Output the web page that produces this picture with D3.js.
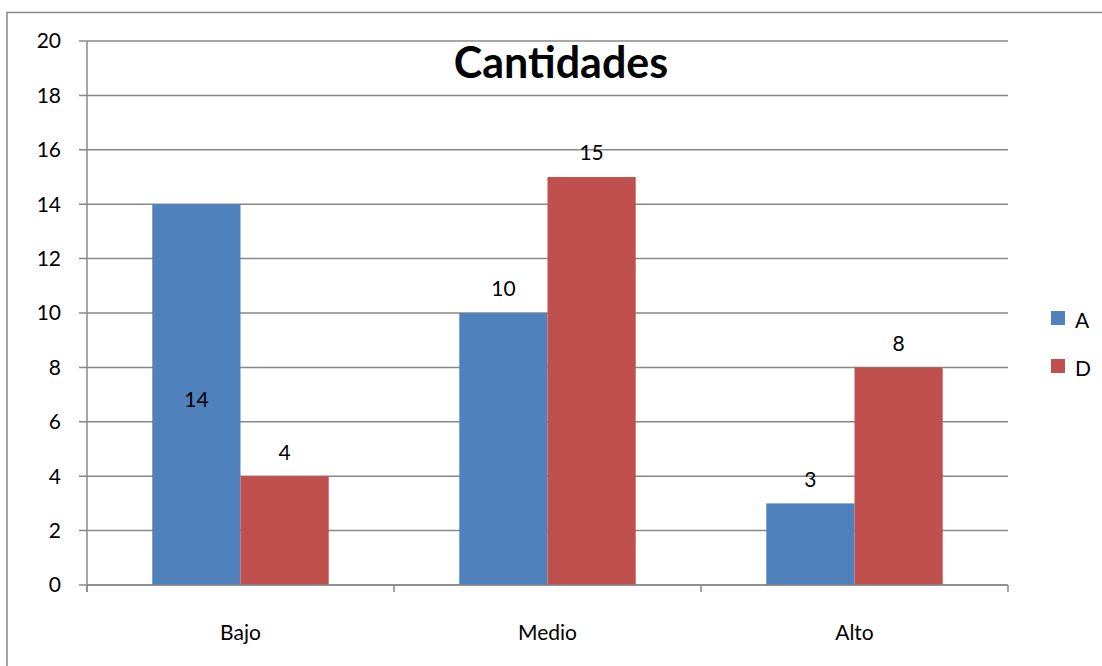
<!DOCTYPE html>
<html><head><meta charset="utf-8">
<script src="https://cdn.jsdelivr.net/npm/d3@7"></script>
<style>body{margin:0;background:#fff}svg{display:block}</style>
</head><body>
<script>
const categories = ["Bajo", "Medio", "Alto"];
const seriesNames = ["A", "D"];
const valuesA = [14, 10, 3];
const valuesD = [4, 15, 8];
const yTicks = [0, 2, 4, 6, 8, 10, 12, 14, 16, 18, 20];
const colors = ["#4F81BD", "#C0504D"];
const title = "Cantidades";

(function () {
const W = 1102, H = 666;
const font = "Lato, 'Open Sans', sans-serif";
const fs = 21;
const svg = d3.select("body").append("svg").attr("width", W).attr("height", H);

// outer chart border
svg.append("rect").attr("x", 7).attr("y", 12.5).attr("width", 1200).attr("height", 700)
  .attr("fill", "#fff").attr("stroke", "#888").attr("stroke-width", 1.5);

const mLeft = 87, mRight = 1008, mTop = 41, mBottom = 585;
const x = d3.scaleBand().domain(categories).range([mLeft, mRight]).paddingInner(0).paddingOuter(0);
const y = d3.scaleLinear().domain([0, 20]).range([mBottom, mTop]);
const inner = d3.scaleBand().domain(seriesNames).range([0, x.bandwidth()]).paddingOuter(0.74).paddingInner(0);

// gridlines
svg.append("g").selectAll("line").data(yTicks).join("line")
  .attr("x1", mLeft - 8).attr("x2", mRight).attr("y1", d => y(d)).attr("y2", d => y(d))
  .attr("stroke", "#888").attr("stroke-width", 1.5);

// y axis
svg.append("line").attr("x1", mLeft).attr("x2", mLeft).attr("y1", mTop).attr("y2", mBottom + 7)
  .attr("stroke", "#888").attr("stroke-width", 1.5);
svg.append("g").selectAll("text").data(yTicks).join("text")
  .attr("x", 61).attr("y", d => y(d)).attr("dy", "0.35em").attr("text-anchor", "end")
  .attr("font-family", font).attr("font-size", fs).attr("fill", "#000").text(d => d);

const data = categories.map((c, i) => ({c, vals: [valuesA[i], valuesD[i]]}));
const groups = svg.append("g").selectAll("g").data(data).join("g")
  .attr("transform", d => `translate(${x(d.c)},0)`);
groups.selectAll("rect").data(d => d.vals.map((v, j) => ({s: seriesNames[j], v, j})))
  .join("rect")
  .attr("x", d => inner(d.s)).attr("width", inner.bandwidth())
  .attr("y", d => y(d.v)).attr("height", d => y(0) - y(d.v))
  .attr("fill", d => colors[d.j]);

// x axis
svg.append("line").attr("x1", mLeft).attr("x2", mRight).attr("y1", mBottom).attr("y2", mBottom)
  .attr("stroke", "#888").attr("stroke-width", 1.5);
const bounds = categories.map(c => x(c)).concat([mRight]);
svg.append("g").selectAll("line").data(bounds).join("line")
  .attr("x1", d => d).attr("x2", d => d).attr("y1", mBottom).attr("y2", mBottom + 7)
  .attr("stroke", "#888").attr("stroke-width", 1.5);
svg.append("g").selectAll("text").data(categories).join("text")
  .attr("x", d => x(d) + x.bandwidth() / 2).attr("y", 633).attr("dy", "0.35em")
  .attr("text-anchor", "middle").attr("font-family", font).attr("font-size", fs).text(d => d);

// data labels
groups.selectAll("text").data(d => d.vals.map((v, j) => ({s: seriesNames[j], v, j, inside: (j === 0 && d.c === "Bajo")})))
  .join("text")
  .attr("x", d => inner(d.s) + inner.bandwidth() / 2)
  .attr("y", d => d.inside ? y(d.v) + 195 : y(d.v) - 24)
  .attr("dy", "0.35em").attr("text-anchor", "middle")
  .attr("font-family", font).attr("font-size", fs).attr("fill", "#000").text(d => d.v);

// title
svg.append("text").attr("x", 561).attr("y", 63).attr("dy", "0.35em").attr("text-anchor", "middle")
  .attr("font-family", font).attr("font-weight", "bold").attr("font-size", 43).text(title);

// legend
const lg = svg.append("g").selectAll("g").data(seriesNames).join("g")
  .attr("transform", (d, i) => `translate(1051,${311 + i * 48})`);
lg.append("rect").attr("width", 14).attr("height", 14).attr("fill", (d, i) => colors[i]);
lg.append("text").attr("x", 24).attr("y", 10).attr("dy", "0.35em")
  .attr("font-family", font).attr("font-size", fs).text(d => d);
})();
</script>
</body></html>
